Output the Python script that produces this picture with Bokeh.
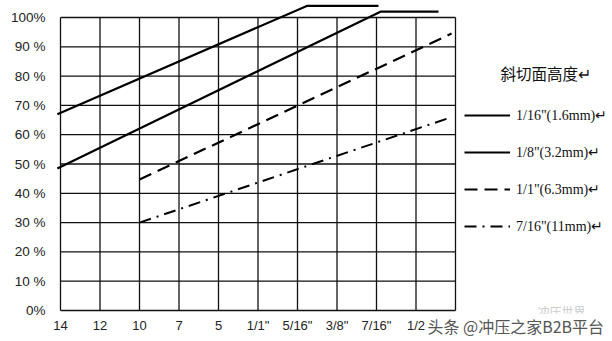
from bokeh.plotting import figure
from bokeh.models import Range1d, Legend, LegendItem, Label
from bokeh.core.properties import value
from bokeh.embed import file_html
from bokeh.resources import INLINE

# ---- data ----
x_tick_pos = [0, 1, 2, 3, 4, 5, 6, 7, 8, 9, 10]
x_tick_labels = ["14", "12", "10", "7", "5", '1/1"', '5/16"', '3/8"', '7/16"', "1/2", ""]
y_tick_pos = [0, 10, 20, 30, 40, 50, 60, 70, 80, 90, 100]
y_tick_labels = ["0%", "10 %", "20 %", "30 %", "40 %", "50 %", "60 %", "70 %", "80 %", "90 %", "100%"]

s1_name = '1/16"(1.6mm)\u21b5'
s1_x = [-0.08, 6.25, 8.05]
s1_y = [67, 104, 104]

s2_name = '1/8"(3.2mm)\u21b5'
s2_x = [-0.08, 8.1, 9.57]
s2_y = [48.5, 102, 102]

s3_name = '1/1"(6.3mm)\u21b5'
s3_x = [2, 9.9]
s3_y = [44.7, 94.5]

s4_name = '7/16"(11mm)\u21b5'
s4_x = [2, 9.9]
s4_y = [30, 66]

legend_title = "斜切面高度\u21b5"
watermark = "头条 @冲压之家B2B平台"
watermark2 = "冲压世界"

# ---- figure: frame spans the whole canvas ----
PX_X = 39.5   # pixels per category step
PX_Y = 2.93   # pixels per percent
p = figure(width=612, height=341, output_backend="svg", toolbar_location=None,
           x_range=Range1d(-60 / PX_X, (612 - 60) / PX_X),
           y_range=Range1d(-(341 - 310) / PX_Y, 310 / PX_Y),
           min_border=0)
p.xaxis.visible = False
p.yaxis.visible = False
p.xgrid.visible = False
p.ygrid.visible = False
p.outline_line_color = None
p.background_fill_color = "white"
p.border_fill_color = "white"

# grid box (10 x 10 cells)
p.segment(x0=x_tick_pos, y0=[y_tick_pos[0]] * len(x_tick_pos), x1=x_tick_pos,
          y1=[y_tick_pos[-1]] * len(x_tick_pos), line_color="#111111", line_width=1.3)
p.segment(x0=[x_tick_pos[0]] * len(y_tick_pos), y0=y_tick_pos, x1=[x_tick_pos[-1]] * len(y_tick_pos),
          y1=y_tick_pos, line_color="#111111", line_width=1.3)

# tick labels
p.text(x=x_tick_pos, y=[-15 / PX_Y] * len(x_tick_pos), text=x_tick_labels,
       text_font=value("Liberation Sans"), text_font_size="13px", text_color="#222222",
       text_align="center", text_baseline="middle")
p.text(x=[-15 / PX_X] * len(y_tick_pos), y=y_tick_pos, text=y_tick_labels,
       text_font=value("Liberation Sans"), text_font_size="13.5px", text_color="#222222",
       text_align="right", text_baseline="middle")

# series
r1 = p.line(s1_x, s1_y, line_color="black", line_width=2.2)
r2 = p.line(s2_x, s2_y, line_color="black", line_width=2.2)
r3 = p.line(s3_x, s3_y, line_color="black", line_width=2.2, line_dash="13 7")
r4 = p.line(s4_x, s4_y, line_color="black", line_width=2.0, line_dash="12 6 2 6")

legend = Legend(items=[LegendItem(label=s1_name, renderers=[r1]),
                       LegendItem(label=s2_name, renderers=[r2]),
                       LegendItem(label=s3_name, renderers=[r3]),
                       LegendItem(label=s4_name, renderers=[r4])],
                location=(464, 105), padding=0, margin=0,
                border_line_alpha=0, background_fill_alpha=0,
                glyph_width=46, glyph_height=20, label_height=20, spacing=17,
                label_standoff=6, label_text_font="Liberation Serif",
                label_text_font_size="14px", label_text_color="#111111")
p.add_layout(legend)

p.add_layout(Label(x=500, y=341 - 72, x_units="screen", y_units="screen", text=legend_title,
                   text_font="Noto Sans CJK SC", text_font_size="15.5px", text_baseline="middle",
                   text_color="#111111"))
p.add_layout(Label(x=537, y=341 - 311, x_units="screen", y_units="screen", text=watermark2,
                   text_font="Noto Sans CJK SC", text_font_size="12px", text_baseline="middle",
                   text_color="#cccccc"))
p.add_layout(Label(x=427, y=341 - 325, x_units="screen", y_units="screen", text=watermark,
                   text_font="Noto Sans CJK SC", text_font_size="16px", text_baseline="middle",
                   text_color="#555555", background_fill_color="white"))

open("out.html", "w").write(file_html(p, INLINE))
